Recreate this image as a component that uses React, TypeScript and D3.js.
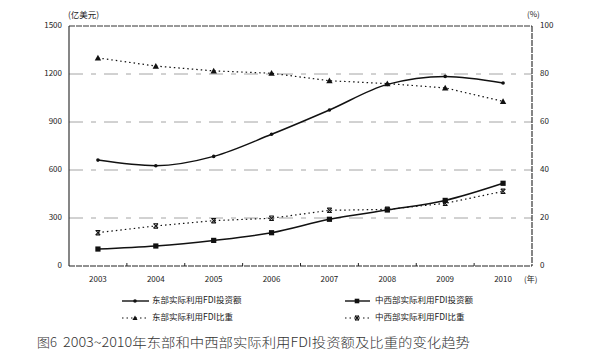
import React from "react";
import * as d3 from "d3";

const years = ["2003", "2004", "2005", "2006", "2007", "2008", "2009", "2010"];
const eastInvest = [662, 627, 685, 823, 975, 1135, 1185, 1144];
const cwInvest = [106, 125, 160, 208, 292, 350, 410, 517];
const eastShare = [86.7, 83.3, 81.3, 80.3, 77.2, 76.0, 74.2, 68.6];
const cwShare = [13.9, 16.7, 18.9, 19.9, 23.2, 23.6, 26.1, 31.1];
const leftTicks = [0, 300, 600, 900, 1200, 1500];
const rightTicks = [0, 20, 40, 60, 80, 100];
const legendLabels = [
  "东部实际利用FDI投资额",
  "中西部实际利用FDI投资额",
  "东部实际利用FDI比重",
  "中西部实际利用FDI比重",
];
const captionNo = "图6";
const captionText = "2003~2010年东部和中西部实际利用FDI投资额及比重的变化趋势";

const W = 611;
const H = 357;
const L = 69;
const R = 532;
const T = 26;
const B = 266;
const FONT = "'Noto Sans CJK SC', 'Noto Sans', sans-serif";

function Tri({ x, y, s = 3.2 }: { x: number; y: number; s?: number }) {
  return <path d={`M${x},${y - s}L${x + s},${y + s * 0.8}L${x - s},${y + s * 0.8}Z`} fill="#111" />;
}
function Sq({ x, y, s = 2.6 }: { x: number; y: number; s?: number }) {
  return <rect x={x - s} y={y - s} width={2 * s} height={2 * s} fill="#111" />;
}
function Dot({ x, y }: { x: number; y: number }) {
  return <circle cx={x} cy={y} r={1.8} fill="#111" />;
}
function XMark({ x, y, s = 2.2 }: { x: number; y: number; s?: number }) {
  return (
    <g stroke="#111" strokeWidth={1.1} fill="none">
      <path d={`M${x - s},${y - s}L${x + s},${y - s}M${x - s},${y + s}L${x + s},${y + s}`} />
      <path d={`M${x - s},${y - s}L${x + s},${y + s}M${x + s},${y - s}L${x - s},${y + s}`} />
    </g>
  );
}

export default function App() {
  const x = d3.scaleBand<string>().domain(years).range([L, R]);
  const cx = (y: string) => (x(y) as number) + x.bandwidth() / 2;
  const yL = d3.scaleLinear().domain([0, 1500]).range([B, T]);
  const yR = d3.scaleLinear().domain([0, 100]).range([B, T]);

  const smooth = (vals: number[], sc: d3.ScaleLinear<number, number>) =>
    d3
      .line<number>()
      .x((_, i) => cx(years[i]))
      .y((v) => sc(v))
      .curve(d3.curveMonotoneX)(vals) as string;
  const straight = (vals: number[], sc: d3.ScaleLinear<number, number>) =>
    d3
      .line<number>()
      .x((_, i) => cx(years[i]))
      .y((v) => sc(v))(vals) as string;

  const boundaries = years.slice(1).map((y) => x(y) as number);

  return (
    <svg
      width={W}
      height={H}
      style={{ position: "fixed", left: 0, top: 0, background: "#fff" }}
      fontFamily={FONT}
    >
      <rect width={W} height={H} fill="#fff" />
      {leftTicks
        .filter((t) => t > 0 && t < 1500)
        .map((t) => (
          <line
            key={t}
            x1={L}
            x2={R}
            y1={yL(t)}
            y2={yL(t)}
            stroke="#9a9a9a"
            strokeWidth={0.9}
            strokeDasharray="14,8,5,8"
          />
        ))}
      <line x1={L} x2={R} y1={T} y2={T} stroke="#333" strokeWidth={1} strokeDasharray="6,1" />
      <line x1={L} x2={R} y1={B} y2={B} stroke="#222" strokeWidth={1.1} strokeDasharray="6,1" />
      <line x1={L} x2={L} y1={T} y2={B} stroke="#222" strokeWidth={1.1} />
      <line x1={R} x2={R} y1={T} y2={B} stroke="#222" strokeWidth={1.1} strokeDasharray="6,1" />
      {boundaries.map((b, i) => (
        <line key={i} x1={b} x2={b} y1={B} y2={B - 3} stroke="#222" strokeWidth={1} />
      ))}
      {leftTicks.map((t) => (
        <text key={t} x={62} y={yL(t)} fontSize={8} textAnchor="end" dominantBaseline="middle" fill="#222">
          {t}
        </text>
      ))}
      {rightTicks.map((t) => (
        <text key={t} x={540} y={yR(t)} fontSize={8} textAnchor="start" dominantBaseline="middle" fill="#222">
          {t}
        </text>
      ))}
      {years.map((y) => (
        <text key={y} x={cx(y)} y={280} fontSize={8} textAnchor="middle" dominantBaseline="middle" fill="#222">
          {y}
        </text>
      ))}
      <text x={68} y={16} fontSize={8.5} dominantBaseline="middle" fill="#222">
        (亿美元)
      </text>
      <text x={527} y={15} fontSize={8} dominantBaseline="middle" fill="#222">
        (%)
      </text>
      <text x={524} y={280} fontSize={8} dominantBaseline="middle" fill="#222">
        (年)
      </text>

      <path d={straight(eastShare, yR)} fill="none" stroke="#111" strokeWidth={1.2} strokeDasharray="1.5,3" />
      <path d={straight(cwShare, yR)} fill="none" stroke="#111" strokeWidth={1.2} strokeDasharray="1.5,3" />
      <path d={smooth(eastInvest, yL)} fill="none" stroke="#111" strokeWidth={1.5} />
      <path d={smooth(cwInvest, yL)} fill="none" stroke="#111" strokeWidth={1.5} />
      {eastShare.map((v, i) => (
        <Tri key={"es" + i} x={cx(years[i])} y={yR(v)} />
      ))}
      {cwShare.map((v, i) => (
        <XMark key={"cs" + i} x={cx(years[i])} y={yR(v)} />
      ))}
      {eastInvest.map((v, i) => (
        <Dot key={"ei" + i} x={cx(years[i])} y={yL(v)} />
      ))}
      {cwInvest.map((v, i) => (
        <Sq key={"ci" + i} x={cx(years[i])} y={yL(v)} />
      ))}

      <g>
        <line x1={122} x2={149} y1={301} y2={301} stroke="#111" strokeWidth={1.4} />
        <Dot x={135} y={301} />
        <text x={152} y={301} fontSize={8.5} dominantBaseline="middle" fill="#222">
          {legendLabels[0]}
        </text>
        <line x1={345} x2={370} y1={301} y2={301} stroke="#111" strokeWidth={1.4} />
        <Sq x={357} y={301} s={2.3} />
        <text x={375} y={301} fontSize={8.5} dominantBaseline="middle" fill="#222">
          {legendLabels[1]}
        </text>
        <line x1={122} x2={149} y1={318} y2={318} stroke="#111" strokeWidth={1.2} strokeDasharray="1.5,3" />
        <Tri x={135} y={318} s={2.6} />
        <text x={152} y={318} fontSize={8.5} dominantBaseline="middle" fill="#222">
          {legendLabels[2]}
        </text>
        <line x1={345} x2={370} y1={318} y2={318} stroke="#111" strokeWidth={1.2} strokeDasharray="1.5,3" />
        <XMark x={357} y={318} s={2} />
        <text x={375} y={318} fontSize={8.5} dominantBaseline="middle" fill="#222">
          {legendLabels[3]}
        </text>
      </g>

      <text x={37} y={343} fontSize={13} fontWeight={300} dominantBaseline="middle" fill="#333">
        {captionNo}
      </text>
      <text
        x={63}
        y={343}
        fontSize={13}
        fontWeight={300}
        dominantBaseline="middle"
        fill="#333"
        textLength={407}
        lengthAdjust="spacingAndGlyphs"
      >
        {captionText}
      </text>
    </svg>
  );
}
